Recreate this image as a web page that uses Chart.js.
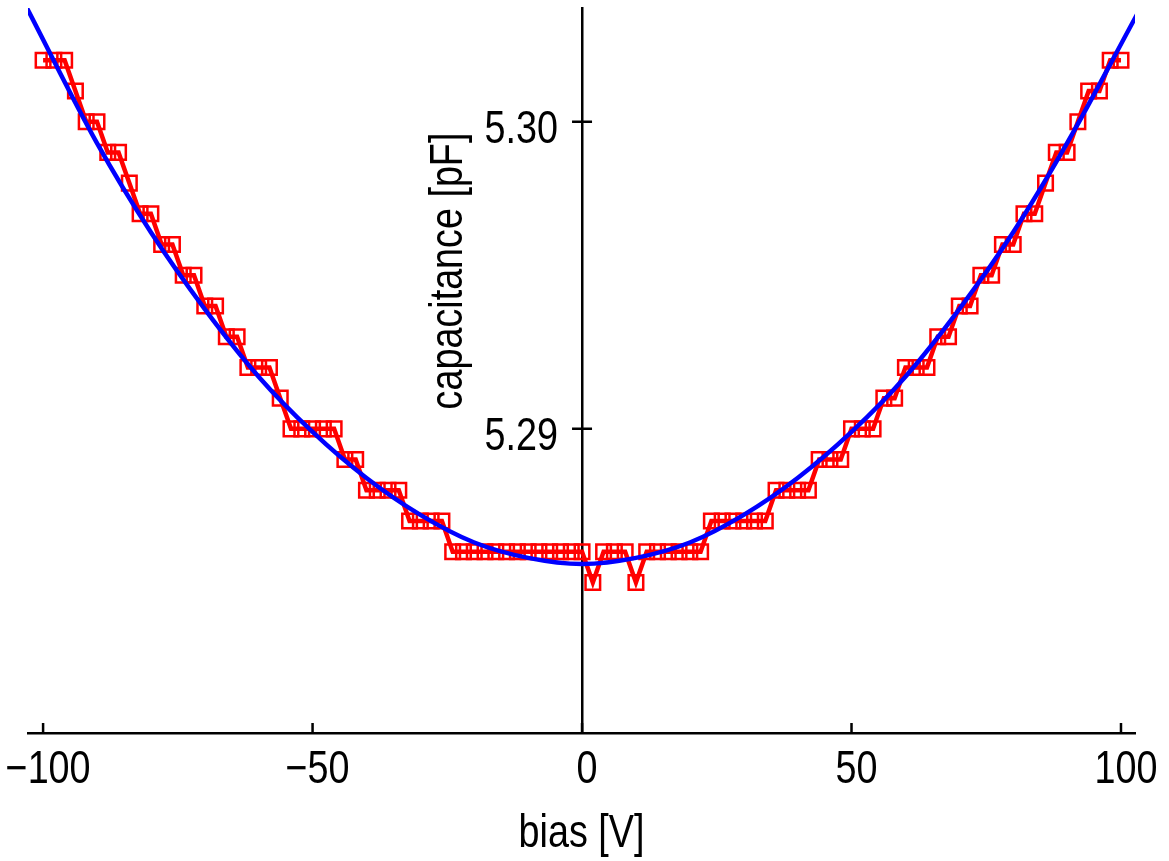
<!DOCTYPE html>
<html>
<head>
<meta charset="utf-8">
<script src="https://cdn.jsdelivr.net/npm/chart.js@4.4.1/dist/chart.umd.min.js"></script>
<style>
  html, body { margin: 0; padding: 0; background: #fff; }
</style>
</head>
<body>
<canvas id="cvChart" width="1169" height="861"></canvas>
<script>
// gemeten punten: bias (V) en capaciteit (pF)
const biasV = [
  -100, -98, -96, -94, -92, -90, -88, -86, -84, -82,
  -80, -78, -76, -74, -72, -70, -68, -66, -64, -62,
  -60, -58, -56, -54, -52, -50, -48, -46, -44, -42,
  -40, -38, -36, -34, -32, -30, -28, -26, -24, -22,
  -20, -18, -16, -14, -12, -10, -8, -6, -4, -2,
  0, 2, 4, 6, 8, 10, 12, 14, 16, 18,
  20, 22, 24, 26, 28, 30, 32, 34, 36, 38,
  40, 42, 44, 46, 48, 50, 52, 54, 56, 58,
  60, 62, 64, 66, 68, 70, 72, 74, 76, 78,
  80, 82, 84, 86, 88, 90, 92, 94, 96, 98,
  100
];
const capPF = [
  5.302, 5.302, 5.302, 5.301, 5.300, 5.300, 5.299, 5.299, 5.298, 5.297,
  5.297, 5.296, 5.296, 5.295, 5.295, 5.294, 5.294, 5.293, 5.293, 5.292,
  5.292, 5.292, 5.291, 5.290, 5.290, 5.290, 5.290, 5.290, 5.289, 5.289,
  5.288, 5.288, 5.288, 5.288, 5.287, 5.287, 5.287, 5.287, 5.286, 5.286,
  5.286, 5.286, 5.286, 5.286, 5.286, 5.286, 5.286, 5.286, 5.286, 5.286,
  5.286, 5.285, 5.286, 5.286, 5.286, 5.285, 5.286, 5.286, 5.286, 5.286,
  5.286, 5.286, 5.287, 5.287, 5.287, 5.287, 5.287, 5.287, 5.288, 5.288,
  5.288, 5.288, 5.289, 5.289, 5.289, 5.290, 5.290, 5.290, 5.291, 5.291,
  5.292, 5.292, 5.292, 5.293, 5.293, 5.294, 5.294, 5.295, 5.295, 5.296,
  5.296, 5.297, 5.297, 5.298, 5.299, 5.299, 5.300, 5.301, 5.301, 5.302,
  5.302
];

const fitV = [-103, -90, -80, -70, -60, -50, -40, -30, -20, -10, 0, 10, 20, 30, 40, 50, 60, 70, 80, 90, 103];
const fitPF = [5.3037, 5.2993, 5.2964, 5.2939, 5.2917, 5.2899, 5.2884, 5.2872, 5.2863, 5.2858, 5.2856,
               5.2858, 5.2863, 5.2872, 5.2884, 5.2899, 5.2917, 5.2939, 5.2964, 5.2993, 5.3035];

const xTicks = [-100, -50, 0, 50, 100];
const xTickLabels = ['\u2212100', '\u221250', '0', '50', '100'];
const yTicks = [5.29, 5.30];
const yTickLabels = ['5.29', '5.30'];

// smalle letter: Liberation Sans horizontaal samengedrukt
const FONT = '46px "Liberation Sans", Arial, sans-serif';
const NARROW = 0.82;

function narrowText(ctx, txt, x, y, rot) {
  ctx.save();
  ctx.translate(x, y);
  if (rot) ctx.rotate(rot);
  ctx.scale(NARROW, 1);
  ctx.fillText(txt, 0, 0);
  ctx.restore();
}

// tick marks, labels en titels zelf tekenen (y-as staat in het midden)
const axisDecor = {
  id: 'axisDecor',
  afterDraw(chart) {
    const { ctx, chartArea, scales: { x, y } } = chart;
    const x0 = x.getPixelForValue(0);
    ctx.save();
    ctx.strokeStyle = '#000';
    ctx.lineWidth = 2.5;
    ctx.beginPath();
    xTicks.forEach(v => {
      const px = x.getPixelForValue(v);
      ctx.moveTo(px, chartArea.bottom);
      ctx.lineTo(px, chartArea.bottom - 10);
    });
    yTicks.forEach(v => {
      const py = y.getPixelForValue(v);
      ctx.moveTo(x0 - 10, py);
      ctx.lineTo(x0 + 10, py);
    });
    ctx.stroke();

    ctx.fillStyle = '#000';
    ctx.font = FONT;
    ctx.textBaseline = 'alphabetic';

    ctx.textAlign = 'right';
    yTicks.forEach((v, i) => {
      narrowText(ctx, yTickLabels[i], x0 - 24, y.getPixelForValue(v) + 21);
    });

    ctx.textAlign = 'center';
    xTicks.forEach((v, i) => {
      narrowText(ctx, xTickLabels[i], x.getPixelForValue(v) + 5, chartArea.bottom + 50);
    });

    narrowText(ctx, 'bias [V]', (chartArea.left + chartArea.right) / 2, chartArea.bottom + 114);
    narrowText(ctx, 'capacitance [pF]', x0 - 120, chartArea.top + 263, -Math.PI / 2);
    ctx.restore();
  }
};

new Chart(document.getElementById('cvChart'), {
  type: 'line',
  data: {
    datasets: [
      {
        label: 'fit',
        data: fitV.map((v, i) => ({ x: v, y: fitPF[i] })),
        borderColor: '#0000ff',
        borderWidth: 4.5,
        pointRadius: 0,
        cubicInterpolationMode: 'monotone'
      },
      {
        label: 'meting',
        data: biasV.map((v, i) => ({ x: v, y: capPF[i] })),
        borderColor: '#ff0000',
        borderWidth: 4.5,
        pointStyle: 'rect',
        pointRadius: 10.3,
        pointBorderWidth: 2.5,
        pointBorderColor: '#ff0000',
        pointBackgroundColor: 'rgba(0,0,0,0)',
        tension: 0
      }
    ]
  },
  options: {
    responsive: false,
    animation: false,
    devicePixelRatio: 1,
    layout: { autoPadding: false, padding: { left: 28, right: 34, top: 8, bottom: 0 } },
    plugins: {
      legend: { display: false },
      tooltip: { enabled: false }
    },
    scales: {
      x: {
        type: 'linear',
        min: -102.8,
        max: 102.6,
        afterBuildTicks: (scale) => { scale.ticks = xTicks.map(v => ({ value: v })); },
        afterFit: (scale) => { scale.height = 128; scale.paddingLeft = 0; scale.paddingRight = 0; },
        grid: { display: false, drawTicks: false },
        border: { display: true, color: '#000', width: 2.5 },
        ticks: { display: false }
      },
      y: {
        type: 'linear',
        position: { x: 0 },
        min: 5.2801,
        max: 5.3037,
        afterFit: (scale) => { scale.width = 0; },
        grid: { display: false, drawTicks: false },
        border: { display: true, color: '#000', width: 2.5 },
        ticks: { display: false }
      }
    }
  },
  plugins: [axisDecor]
});
</script>
</body>
</html>
